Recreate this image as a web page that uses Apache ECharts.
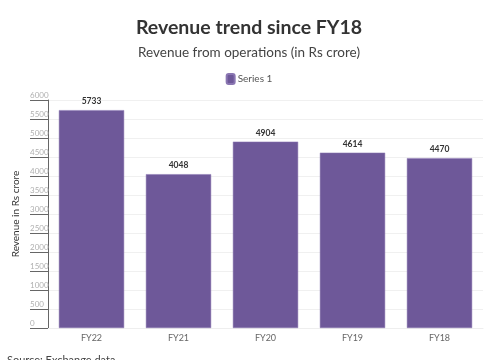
<!DOCTYPE html>
<html><head><meta charset="utf-8">
<script src="https://cdn.jsdelivr.net/npm/echarts@6/dist/echarts.min.js"></script>
<style>html,body{margin:0;padding:0;background:#fff;}#c{width:498px;height:360px;}</style>
</head><body><div id="c"></div>
<script>
var categories = ['FY22','FY21','FY20','FY19','FY18'];
var revenue = [5733, 4048, 4904, 4614, 4470];
var yTicks = [0, 500, 1000, 1500, 2000, 2500, 3000, 3500, 4000, 4500, 5000, 5500, 6000];

var chart = echarts.init(document.getElementById('c'));
var F = 'Lato, "Open Sans", sans-serif';
chart.setOption({
  animation: false,
  title: [{
    text: 'Revenue trend since FY18', left: 'center', top: 13,
    textStyle: {fontFamily: F, fontSize: 19.5, fontWeight: 'bold', color: '#333'}
  }, {
    text: 'Revenue from operations (in Rs crore)', left: 'center', top: 41,
    textStyle: {fontFamily: F, fontSize: 13.5, fontWeight: 'normal', color: '#444'}
  }],
  legend: {
    top: 68, left: 'center', itemWidth: 8, itemHeight: 10, itemGap: 4,
    icon: 'roundRect',
    textStyle: {fontFamily: F, fontSize: 10, color: '#555', padding: [0,0,0,-2]},
    data: ['Series 1']
  },
  grid: {left: 48, right: 15, top: 100, bottom: 32},
  xAxis: {
    type: 'category', data: categories,
    axisLine: {show: true, lineStyle: {color: '#eee'}},
    axisTick: {show: false},
    axisLabel: {fontFamily: F, fontSize: 9, color: '#666', margin: 6}
  },
  yAxis: {
    type: 'value', min: 0, max: 6000, interval: 500,
    name: 'Revenue in Rs crore', nameLocation: 'middle', nameGap: 27, nameMoveOverlap: false,
    nameTextStyle: {fontFamily: F, fontSize: 10, color: '#333'},
    axisLine: {show: true, lineStyle: {color: '#666'}},
    axisTick: {show: true, length: 18, lineStyle: {color: '#666'}},
    axisLabel: {
      fontFamily: F, fontSize: 8, color: '#b0b0b0', align: 'left', verticalAlign: 'bottom',
      margin: 18, padding: [0,0,1,0],
      formatter: function (v) { return yTicks.indexOf(v) >= 0 ? String(v) : ''; }
    },
    splitLine: {show: true, lineStyle: {color: '#f0f0f0'}}
  },
  series: [{
    name: 'Series 1', type: 'bar', data: revenue, barWidth: '75%',
    itemStyle: {color: '#6e5899', borderColor: '#8a76b2', borderWidth: 0.5},
    label: {show: true, position: 'top', distance: 4, fontFamily: F, fontSize: 8.5, fontWeight: 'bold', color: '#333'}
  }],
  graphic: [{
    type: 'text', left: 7, top: 355,
    style: {text: 'Source: Exchange data', fontFamily: F, fontSize: 11, fill: '#444'}
  }]
});
</script></body></html>
